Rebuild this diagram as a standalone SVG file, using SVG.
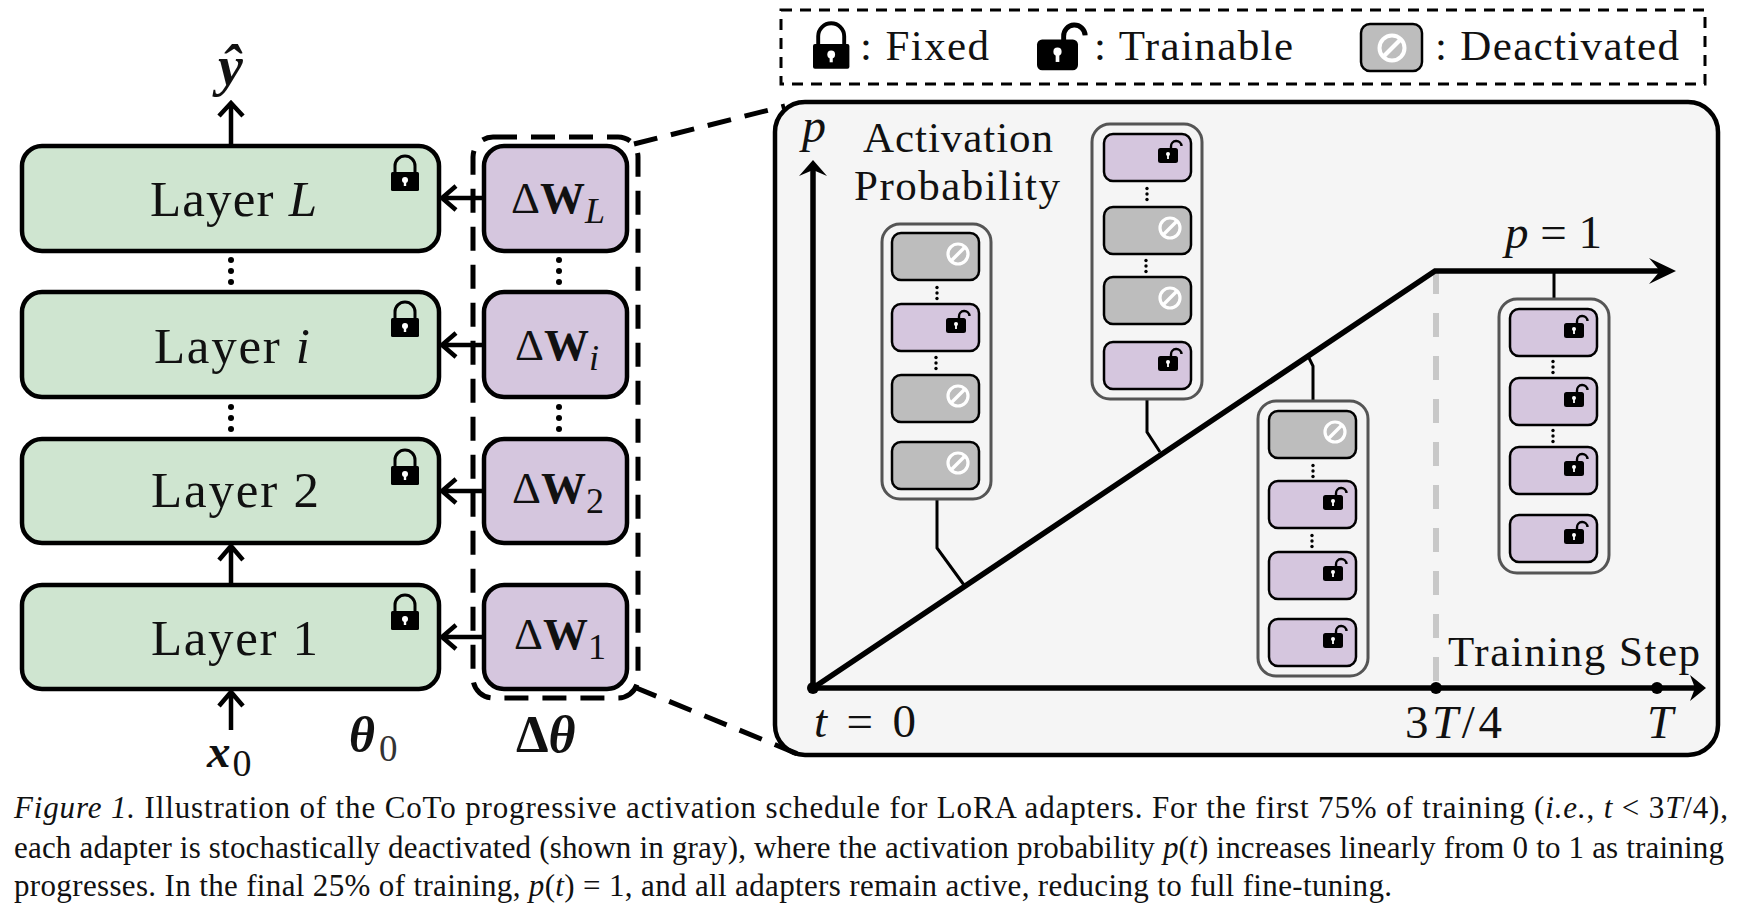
<svg xmlns="http://www.w3.org/2000/svg" width="1738" height="912" viewBox="0 0 1738 912">
<style>
text{font-family:"Liberation Serif","Times New Roman",serif;fill:#111}
.i{font-style:italic}.b{font-weight:bold}.bi{font-weight:bold;font-style:italic}
.layer{fill:#cfe5d0;stroke:#000;stroke-width:4.500}
.dw{fill:#d5c6de;stroke:#000;stroke-width:4.500}
.lt{font-size:51px}.dt{font-size:45px}.sub{font-size:36px}.lg{font-size:43px}.pt{font-size:43px}.pm{font-size:47px}
.cap{font-size:31px}
.stack{fill:#f5f5f5;stroke:#555;stroke-width:3}
.on{fill:#d5c6de;stroke:#000;stroke-width:2.5}
.off{fill:#bdbdbd;stroke:#000;stroke-width:2.5}
.stick{fill:none;stroke:#000;stroke-width:4.500}
.thin{fill:none;stroke:#000;stroke-width:3}
.main{fill:none;stroke:#000;stroke-width:5.500}
.dash{fill:none;stroke:#000;stroke-width:5;stroke-dasharray:24 14}
.dash2{fill:none;stroke:#000;stroke-width:3;stroke-dasharray:11 8}
</style>
<defs>
<g id="lock"><rect x="0" y="17" width="28" height="19" rx="1.500" fill="#000"/><path d="M4 18V11A10 10 0 0 1 24 11V18" fill="none" stroke="#000" stroke-width="3"/><circle cx="14" cy="25" r="3" fill="#fff"/><path d="M14 25V31" stroke="#fff" stroke-width="2.400"/></g>
<g id="open"><rect x="0" y="8" width="20" height="15" rx="2.500" fill="#000"/><path d="M13 10V6.500A5 5 0 0 1 23.500 6" fill="none" stroke="#000" stroke-width="2.400"/><circle cx="10" cy="14" r="2" fill="#fff"/><path d="M10 14V19" stroke="#fff" stroke-width="1.800"/></g>
<g id="ban"><circle r="10" fill="none" stroke="#fff" stroke-width="3.200"/><path d="M-7 7L7-7" stroke="#fff" stroke-width="3.400"/></g>
<g id="vd"><circle cy="-11" r="3" fill="#000"/><circle cy="0" r="3" fill="#000"/><circle cy="11" r="3" fill="#000"/></g>
<g id="sd"><circle cy="-5.500" r="1.700" fill="#000"/><circle cy="0" r="1.700" fill="#000"/><circle cy="5.500" r="1.700" fill="#000"/></g>
<g id="cardOn"><rect width="87" height="47" rx="9" class="on"/><use href="#open" x="54" y="6"/></g>
<g id="cardOff"><rect width="87" height="47" rx="9" class="off"/><use href="#ban" x="66" y="21"/></g>
</defs>
<rect width="1738" height="912" fill="#fff"/>

<g id="legend">
<rect x="781" y="10" width="924" height="74" class="dash2"/>
<use href="#lock" transform="translate(813 22) scale(1.3)"/>
<text class="lg" x="860" y="60" textLength="129">: Fixed</text>
<use href="#open" transform="translate(1037 23) scale(2.05)"/>
<text class="lg" x="1094" y="60" textLength="199">: Trainable</text>
<rect x="1361" y="24" width="61" height="47" rx="9" class="off"/>
<use href="#ban" transform="translate(1392 48) scale(1.25)"/>
<text class="lg" x="1435" y="60" textLength="244">: Deactivated</text>
</g>

<g id="panel"><rect x="775" y="102" width="943" height="653" rx="30" fill="#f5f5f5" stroke="#000" stroke-width="4.500"/></g>

<g id="connectors">
<path class="stick" d="M231 145V104M219 116L231 103L243 116"/>
<path class="stick" d="M483 198H443M456 186L442 198L456 210"/>
<path class="stick" d="M483 345H443M456 333L442 345L456 357"/>
<path class="stick" d="M483 491H443M456 479L442 491L456 503"/>
<path class="stick" d="M483 637H443M456 625L442 637L456 649"/>
<path class="stick" d="M231 584V548M219 560L231 546L243 560"/>
<path class="stick" d="M231 730V694M219 706L231 692L243 706"/>
<path class="dash" d="M634 144L785 106"/>
<path class="dash" d="M634 687L798 754"/>
<path d="M1436 270V688" fill="none" stroke="#c8c8c8" stroke-width="6" stroke-dasharray="24 19"/>
<path class="thin" d="M937 499V548L964 585"/>
<path class="thin" d="M1147 399V432L1160 452"/>
<path class="thin" d="M1313 401V366L1309 358"/>
<path class="thin" d="M1554 299V271"/>
<path class="main" d="M813 687V170"/>
<path d="M813 160L827 176L813 170L799 176Z" fill="#000"/>
<path class="main" d="M813 688H1695"/>
<path d="M1706 688L1690 675L1695 688L1690 701Z" fill="#000"/>
<path class="main" d="M813 688L1435 271H1665"/>
<path d="M1676 271L1649 258L1660 271L1649 284Z" fill="#000"/>
<circle cx="813" cy="688" r="6" fill="#000"/>
<circle cx="1436" cy="688" r="6" fill="#000"/>
<circle cx="1657" cy="688" r="6" fill="#000"/>
</g>

<g id="layer-L"><rect x="22" y="146" width="417" height="105" rx="20" class="layer"/><text class="lt" x="150" y="216" textLength="167">Layer <tspan class="i">L</tspan></text><use href="#lock" x="391" y="155"/></g>
<g id="layer-i"><rect x="22" y="292" width="417" height="105" rx="20" class="layer"/><text class="lt" x="154" y="363" textLength="156">Layer <tspan class="i">i</tspan></text><use href="#lock" x="391" y="301"/></g>
<g id="layer-2"><rect x="22" y="439" width="417" height="104" rx="20" class="layer"/><text class="lt" x="151" y="507" textLength="168">Layer 2</text><use href="#lock" x="391" y="449"/></g>
<g id="layer-1"><rect x="22" y="585" width="417" height="104" rx="20" class="layer"/><text class="lt" x="151" y="655" textLength="167">Layer 1</text><use href="#lock" x="391" y="594"/></g>
<use href="#vd" x="231" y="271"/><use href="#vd" x="231" y="418"/>
<use href="#vd" x="559" y="271"/><use href="#vd" x="559" y="418"/>

<rect id="delta-box" x="473" y="137" width="165" height="561" rx="20" class="dash"/>
<g id="dw-L"><rect x="484" y="146" width="143" height="105" rx="20" class="dw"/><text class="dt" x="511" y="213">Δ<tspan class="b">W</tspan><tspan class="i sub" dy="10">L</tspan></text></g>
<g id="dw-i"><rect x="484" y="292" width="143" height="105" rx="20" class="dw"/><text class="dt" x="515" y="360">Δ<tspan class="b">W</tspan><tspan class="i sub" dy="10">i</tspan></text></g>
<g id="dw-2"><rect x="484" y="439" width="143" height="104" rx="20" class="dw"/><text class="dt" x="512" y="503">Δ<tspan class="b">W</tspan><tspan class="sub" dy="10">2</tspan></text></g>
<g id="dw-1"><rect x="484" y="585" width="143" height="104" rx="20" class="dw"/><text class="dt" x="514" y="649">Δ<tspan class="b">W</tspan><tspan class="sub" dy="10">1</tspan></text></g>

<g id="labels-left">
<text class="bi" x="218" y="85" font-size="56">ŷ</text>
<text x="207" y="767" font-size="47"><tspan class="bi">x</tspan><tspan font-size="38" dy="9" dx="2">0</tspan></text>
<text x="349" y="752" font-size="50"><tspan class="bi">θ</tspan><tspan font-size="37" dy="9" dx="4" fill="#333">0</tspan></text>
<text class="b" x="516" y="752" font-size="52">Δ<tspan class="bi">θ</tspan></text>
</g>

<g id="panel-labels">
<text class="i" x="802" y="142" font-size="48">p</text>
<text class="pt" x="863" y="152" textLength="190">Activation</text>
<text class="pt" x="854" y="200" textLength="206">Probability</text>
<text class="pm" x="1505" y="248" textLength="97"><tspan class="i">p</tspan> = 1</text>
<text class="pm" x="814" y="737" textLength="102"><tspan class="i">t</tspan> = 0</text>
<text class="pm" x="1405" y="738" textLength="97">3<tspan class="i">T</tspan>/4</text>
<text class="pm i" x="1647" y="738">T</text>
<text class="pt" x="1448" y="666" textLength="252">Training Step</text>
</g>

<g id="stack-a"><rect x="882" y="224" width="109" height="275" rx="18" class="stack"/>
<use href="#cardOff" x="892" y="233"/><use href="#sd" x="937" y="293"/><use href="#cardOn" x="892" y="304"/><use href="#sd" x="936" y="363"/><use href="#cardOff" x="892" y="375"/><use href="#cardOff" x="892" y="442"/></g>
<g id="stack-b"><rect x="1092" y="124" width="110" height="275" rx="18" class="stack"/>
<use href="#cardOn" x="1104" y="134"/><use href="#sd" x="1147" y="194"/><use href="#cardOff" x="1104" y="207"/><use href="#sd" x="1146" y="266"/><use href="#cardOff" x="1104" y="277"/><use href="#cardOn" x="1104" y="342"/></g>
<g id="stack-c"><rect x="1258" y="401" width="110" height="275" rx="18" class="stack"/>
<use href="#cardOff" x="1269" y="411"/><use href="#sd" x="1313" y="471"/><use href="#cardOn" x="1269" y="481"/><use href="#sd" x="1312" y="541"/><use href="#cardOn" x="1269" y="552"/><use href="#cardOn" x="1269" y="619"/></g>
<g id="stack-d"><rect x="1499" y="299" width="110" height="274" rx="18" class="stack"/>
<use href="#cardOn" x="1510" y="309"/><use href="#sd" x="1553" y="367"/><use href="#cardOn" x="1510" y="378"/><use href="#sd" x="1553" y="436"/><use href="#cardOn" x="1510" y="447"/><use href="#cardOn" x="1510" y="515"/></g>

<g id="caption">
<text class="cap" x="14" y="818" textLength="1714"><tspan class="i">Figure 1.</tspan>  Illustration of the CoTo progressive activation schedule for LoRA adapters.  For the first 75% of training (<tspan class="i">i.e.</tspan>, <tspan class="i">t</tspan> &lt; 3<tspan class="i">T</tspan>/4),</text>
<text class="cap" x="14" y="858" textLength="1710">each adapter is stochastically deactivated (shown in gray), where the activation probability <tspan class="i">p</tspan>(<tspan class="i">t</tspan>) increases linearly from 0 to 1 as training</text>
<text class="cap" x="14" y="896" textLength="1378">progresses. In the final 25% of training, <tspan class="i">p</tspan>(<tspan class="i">t</tspan>) = 1, and all adapters remain active, reducing to full fine-tuning.</text>
</g>
</svg>
